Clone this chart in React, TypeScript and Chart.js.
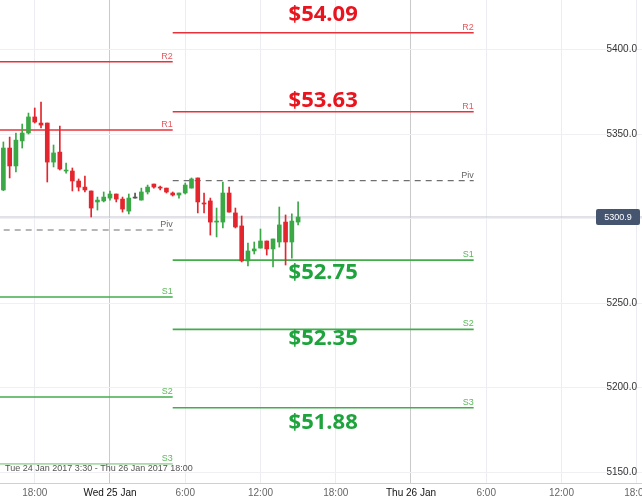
import React, { useEffect, useRef } from 'react';
import { Chart, registerables } from 'chart.js';
Chart.register(...registerables);

const FONT = '"Liberation Sans", Arial, sans-serif';

// 30-minute candles, time in hours from Wed 25 Jan 00:00
const candleHours = [
  -8.5, -8, -7.5, -7, -6.5, -6, -5.5, -5, -4.5, -4, -3.5, -3, -2.5, -2, -1.5, -1,
  -0.5, 0, 0.5, 1, 1.5, 2, 2.5, 3, 3.5, 4, 4.5, 5, 5.5, 6, 6.5, 7,
  7.5, 8, 8.5, 9, 9.5, 10, 10.5, 11, 11.5, 12, 12.5, 13, 13.5, 14, 14.5, 15,
];
const opens = [
  5316.9, 5341.7, 5331.1, 5345.9, 5350.6, 5360.1, 5356.5, 5356.5, 5333.4, 5339.3, 5328.1, 5328.1,
  5322.2, 5318.6, 5316.3, 5309.8, 5310.4, 5312.1, 5314.5, 5311.5, 5304.4, 5312.1, 5310.9, 5315.7,
  5320.4, 5318.6, 5318.0, 5315.1, 5313.9, 5315.1, 5318.0, 5324.0, 5309.2, 5310.4, 5297.9, 5297.9,
  5315.1, 5303.3, 5295.6, 5274.9, 5280.8, 5282.5, 5286.7, 5282.0, 5286.1, 5297.9, 5286.1, 5297.9,
];
const highs = [
  5345.3, 5348.2, 5350.6, 5355.9, 5362.4, 5365.4, 5368.9, 5356.5, 5343.5, 5354.7, 5332.8, 5329.9,
  5323.4, 5325.1, 5316.3, 5312.7, 5315.7, 5316.3, 5314.5, 5312.7, 5314.5, 5315.1, 5318.0, 5319.8,
  5320.4, 5319.2, 5318.0, 5315.7, 5315.1, 5321.0, 5324.0, 5324.0, 5315.1, 5312.1, 5306.2, 5321.6,
  5318.6, 5306.2, 5301.5, 5285.5, 5286.1, 5293.8, 5286.7, 5287.9, 5306.8, 5302.1, 5302.7, 5309.8,
];
const lows = [
  5316.5, 5324.0, 5327.5, 5341.7, 5350.0, 5356.5, 5353.6, 5321.6, 5330.5, 5328.7, 5326.9, 5316.3,
  5316.3, 5315.7, 5300.9, 5305.0, 5309.8, 5310.9, 5309.8, 5303.8, 5302.7, 5312.1, 5310.9, 5314.5,
  5318.0, 5316.9, 5315.1, 5313.3, 5312.1, 5314.5, 5318.0, 5303.3, 5303.3, 5290.2, 5289.1, 5294.4,
  5303.8, 5294.4, 5274.3, 5271.9, 5279.0, 5282.5, 5278.4, 5271.3, 5283.1, 5272.5, 5276.6, 5296.2,
];
const closes = [
  5341.7, 5331.1, 5346.4, 5350.6, 5360.1, 5357.1, 5355.3, 5333.4, 5338.8, 5329.3, 5328.7, 5322.2,
  5318.6, 5316.9, 5306.2, 5310.9, 5312.7, 5314.5, 5311.5, 5305.6, 5312.1, 5312.1, 5315.7, 5318.6,
  5318.6, 5318.0, 5315.7, 5313.9, 5315.1, 5319.8, 5323.4, 5309.8, 5308.6, 5297.9, 5298.5, 5315.1,
  5303.8, 5295.0, 5274.9, 5280.8, 5282.0, 5286.7, 5282.0, 5287.9, 5296.2, 5286.1, 5298.5, 5300.9,
];

// pivot levels
const levelNames = ['R2', 'R1', 'Piv', 'S1', 'S2', 'S3'];
const prevLevelStart = -19;
const prevLevelEnd = 5;
const prevLevels = [5392.8, 5352.4, 5293.2, 5253.6, 5194.4, 5154.8];
const curLevelStart = 5;
const curLevelEnd = 29;
const curLevels = [5409.9, 5363.2, 5322.4, 5275.4, 5234.4, 5188.0];

// big price callouts
const bigLabels = ['$54.09', '$53.63', '$52.75', '$52.35', '$51.88'];
const bigLabelValues = [5420.4, 5369.5, 5267.8, 5228.7, 5179.0];
const bigLabelHour = 17;

const xTickHours = [-6, 0, 6, 12, 18, 24, 30, 36, 42];
const xTickLabels = ['18:00', 'Wed 25 Jan', '6:00', '12:00', '18:00', 'Thu 26 Jan', '6:00', '12:00', '18:00'];
const yTickValues = [5150, 5200, 5250, 5300, 5350, 5400];
const rangeText = 'Tue 24 Jan 2017 3:30 - Thu 26 Jan 2017 18:00';

const X_MIN = -8.77;
const X_MAX = 42.42;
const Y_MIN = 5143.5;
const Y_MAX = 5429.3;

const RED = '#e8323a';
const GREEN = '#43ad4c';
const UP = '#3aa845';
const DOWN = '#e3262d';
const FLAT = '#555555';

const levelColor = (k: number, prev: boolean) => {
  if (k < 2) return RED;
  if (k === 2) return '#6f6f6f';
  if (k === 5 && prev) return '#a8dba8';
  return GREEN;
};
const levelLabelColor = (k: number) => (k < 2 ? '#e55a5f' : k === 2 ? '#666' : '#5cb85c');

const candleColor = (i: number) =>
  closes[i] > opens[i] ? UP : closes[i] < opens[i] ? DOWN : FLAT;

const overlayPlugin = {
  id: 'overlay',
  afterDatasetsDraw(chart: any) {
    const { ctx, chartArea, scales } = chart;
    const x = scales.x;
    const y = scales.y;
    ctx.save();
    // small level labels
    ctx.font = `9px ${FONT}`;
    ctx.textAlign = 'right';
    ctx.textBaseline = 'bottom';
    [
      { end: prevLevelEnd, values: prevLevels },
      { end: curLevelEnd, values: curLevels },
    ].forEach((set) => {
      const px = x.getPixelForValue(set.end);
      set.values.forEach((v, k) => {
        ctx.fillStyle = levelLabelColor(k);
        ctx.fillText(levelNames[k], px, y.getPixelForValue(v) - 1);
      });
    });
    // big callouts
    ctx.font = `bold 22px "Open Sans", ${FONT}`;
    ctx.textAlign = 'center';
    ctx.textBaseline = 'middle';
    bigLabels.forEach((t, k) => {
      ctx.fillStyle = k < 2 ? '#e8141e' : '#1fa33c';
      ctx.fillText(t, x.getPixelForValue(bigLabelHour), y.getPixelForValue(bigLabelValues[k]));
    });
    // last price box
    const last = closes[closes.length - 1];
    const py = y.getPixelForValue(last);
    const bw = 44;
    const bh = 16;
    const bx = chartArea.right - bw - 2;
    ctx.fillStyle = '#46556f';
    ctx.beginPath();
    if (ctx.roundRect) ctx.roundRect(bx, py - bh / 2, bw, bh, 2);
    else ctx.rect(bx, py - bh / 2, bw, bh);
    ctx.fill();
    ctx.fillStyle = '#ffffff';
    ctx.font = `9px ${FONT}`;
    ctx.textAlign = 'center';
    ctx.textBaseline = 'middle';
    ctx.fillText(last.toFixed(1), bx + bw / 2, py + 0.5);
    // range text
    ctx.fillStyle = '#555';
    ctx.font = `9px ${FONT}`;
    ctx.textAlign = 'left';
    ctx.textBaseline = 'middle';
    ctx.fillText(rangeText, chartArea.left + 5, chartArea.bottom - 14);
    ctx.restore();
  },
};

export default function App() {
  const ref = useRef<HTMLCanvasElement | null>(null);
  useEffect(() => {
    if (!ref.current) return;
    const lineSets: any[] = [];
    [
      { start: prevLevelStart, end: prevLevelEnd, values: prevLevels, prev: true },
      { start: curLevelStart, end: curLevelEnd, values: curLevels, prev: false },
    ].forEach((set) => {
      set.values.forEach((v, k) => {
        lineSets.push({
          type: 'line',
          data: [
            { x: set.start, y: v },
            { x: set.end, y: v },
          ],
          borderColor: levelColor(k, set.prev),
          borderWidth: k === 2 ? 1.2 : 1.6,
          borderDash: k === 2 ? [6, 5] : [],
          pointRadius: 0,
          fill: false,
          order: 3,
        });
      });
    });
    const lastPrice = closes[closes.length - 1];
    const chart = new Chart(ref.current, {
      type: 'bar',
      data: {
        datasets: [
          {
            type: 'line',
            data: [
              { x: X_MIN, y: lastPrice },
              { x: X_MAX, y: lastPrice },
            ],
            borderColor: '#c3c7d2',
            borderWidth: 1,
            pointRadius: 0,
            fill: false,
            order: 4,
          } as any,
          ...lineSets,
          {
            type: 'bar',
            data: candleHours.map((h, i) => ({ x: h, y: [lows[i], highs[i]] })),
            backgroundColor: candleHours.map((_, i) => candleColor(i)),
            barThickness: 1,
            grouped: false,
            order: 2,
          },
          {
            type: 'bar',
            data: candleHours.map((h, i) => ({ x: h, y: [opens[i], closes[i]] })),
            backgroundColor: candleHours.map((_, i) => candleColor(i)),
            barThickness: 4,
            minBarLength: 1,
            grouped: false,
            order: 1,
          },
        ],
      } as any,
      options: {
        animation: false,
        responsive: true,
        maintainAspectRatio: false,
        layout: { padding: 0 },
        plugins: { legend: { display: false }, tooltip: { enabled: false } },
        scales: {
          x: {
            type: 'linear',
            min: X_MIN,
            max: X_MAX,
            offset: false,
            afterBuildTicks: (s: any) => {
              s.ticks = xTickHours.map((v) => ({ value: v }));
            },
            afterFit: (s: any) => {
              s.paddingRight = 0;
              s.paddingLeft = 0;
              s.height = 16;
            },
            ticks: {
              autoSkip: false,
              maxRotation: 0,
              padding: 4,
              callback: (_v: any, i: number) => xTickLabels[i],
              color: (c: any) => (xTickHours[c.index] % 24 === 0 ? '#111' : '#666'),
              font: { size: 10, family: FONT },
            },
            grid: {
              offset: false,
              drawTicks: false,
              color: (c: any) =>
                c.tick && c.tick.value % 24 === 0 ? '#cacaca' : '#ececf3',
            },
            border: { display: true, color: '#d0d0d0' },
          },
          y: {
            type: 'linear',
            position: 'right',
            min: Y_MIN,
            max: Y_MAX,
            afterBuildTicks: (s: any) => {
              s.ticks = yTickValues.map((v) => ({ value: v }));
            },
            afterFit: (s: any) => {
              s.width = 0;
              s.paddingTop = 0;
              s.paddingBottom = 0;
            },
            ticks: {
              mirror: true,
              padding: -5,
              color: '#333',
              font: { size: 10, family: FONT },
              callback: (v: any) => Number(v).toFixed(1),
            },
            grid: { drawTicks: false, color: '#f0f0f4' },
            border: { display: false },
          },
        },
      } as any,
      plugins: [overlayPlugin],
    });
    return () => chart.destroy();
  }, []);
  return (
    <div style={{ position: 'fixed', left: 0, top: 0, width: 642, height: 499, background: '#fff' }}>
      <canvas ref={ref} />
    </div>
  );
}
